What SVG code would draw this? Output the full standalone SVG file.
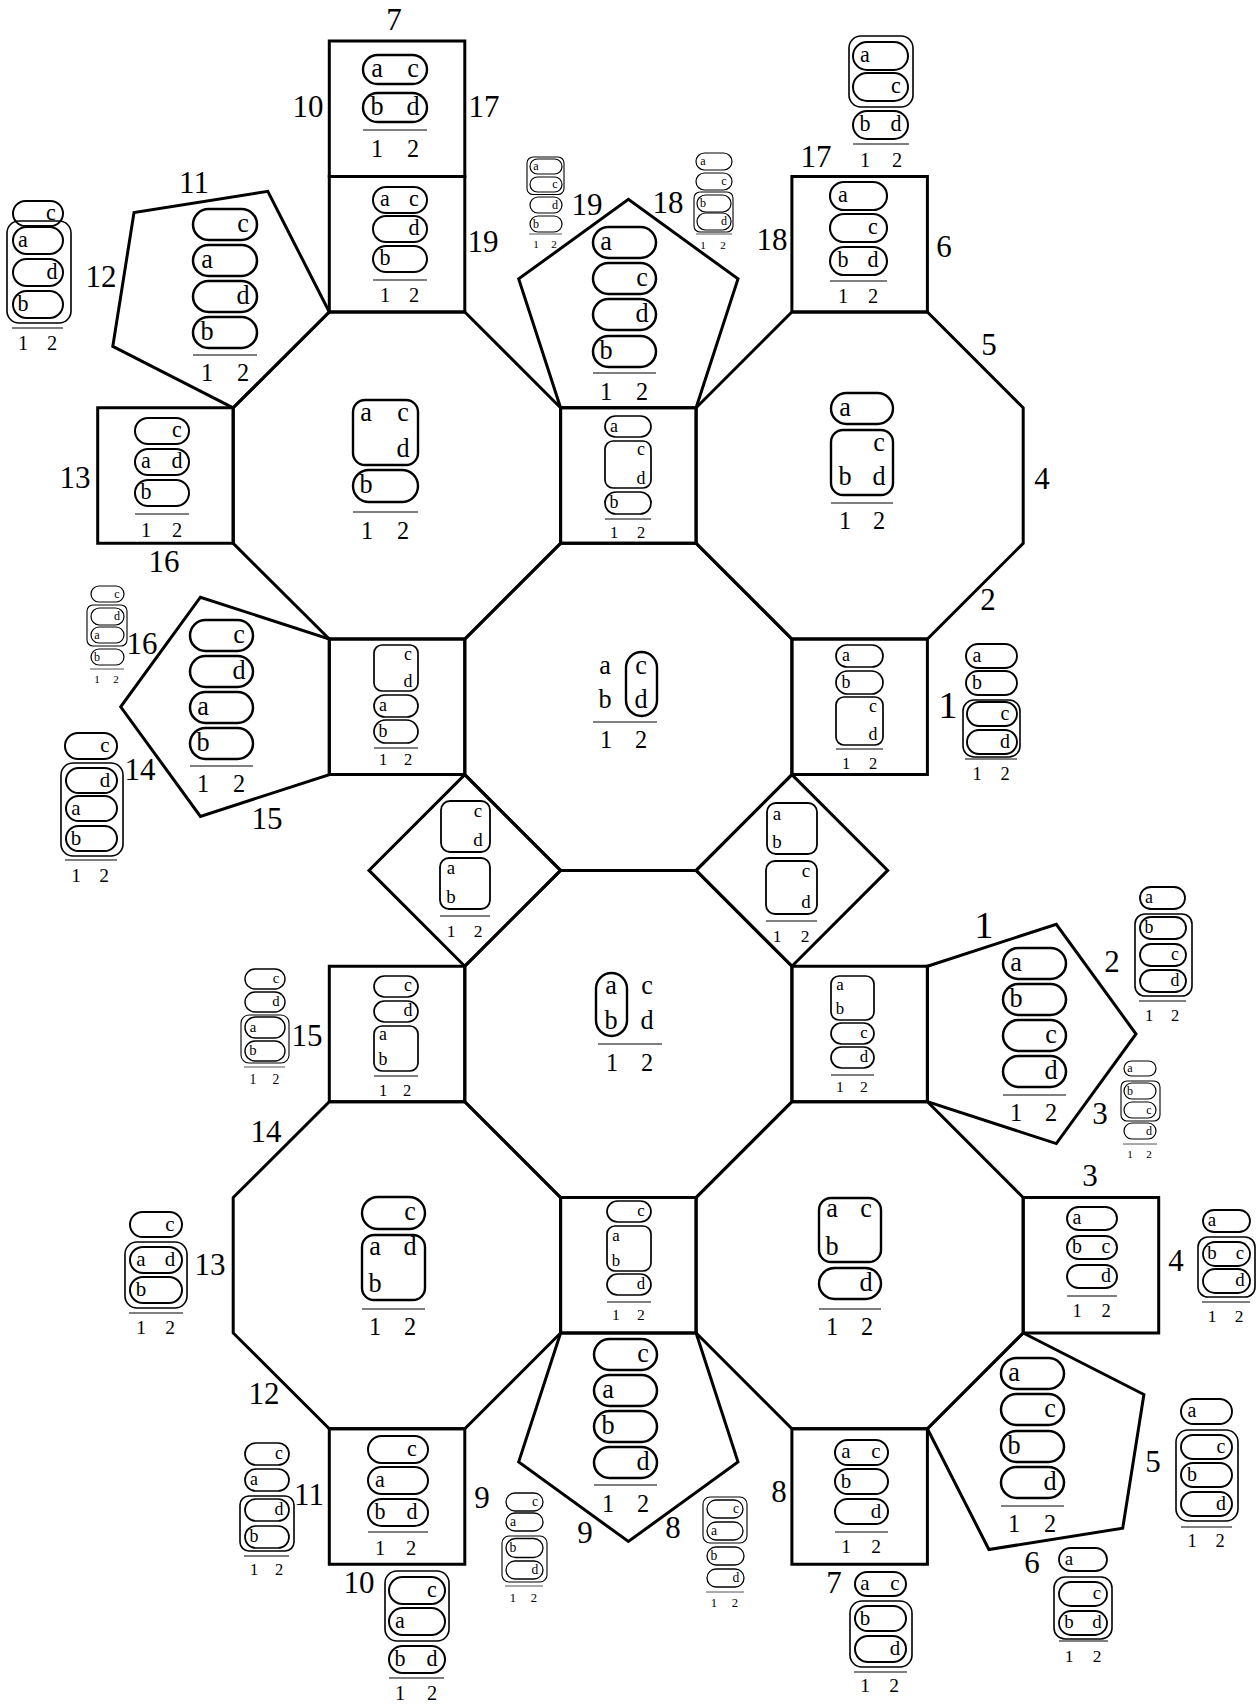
<svg xmlns="http://www.w3.org/2000/svg" width="1260" height="1707" viewBox="0 0 1260 1707">
<style>
text{font-family:"Liberation Serif","Times New Roman",serif;text-anchor:middle;fill:#000;stroke:none}
.d text{font-size:1.05em}
.d text.n{font-size:0.97em}
.d rect{fill:none;stroke:#000}
.d line{stroke:#555;stroke-width:1.5}
.d .c{stroke-width:1.6}
.t line{stroke-width:1}
.t .c{stroke-width:1.1}
.sh{fill:none;stroke:#000;stroke-width:3;stroke-linejoin:miter}
.lb{font-size:31px}
.lb1{font-size:38px}
</style>
<rect width="1260" height="1707" fill="#fff"/>
<g id="tiles">
<g id="sq-top7"><polygon class="sh" points="329.3,41 464.8,41 464.8,176.5 329.3,176.5"/>
<g class="d" font-size="25" stroke-width="2.4">
<rect x="363" y="55" width="64" height="29" rx="14.5"/><rect x="363" y="93" width="64" height="29" rx="14.5"/>
<text x="377" y="77">a</text><text x="413" y="77">c</text><text x="377" y="115">b</text><text x="413" y="115">d</text>
<line x1="363" y1="130" x2="427" y2="130"/>
<text class="n" x="377" y="157">1</text><text class="n" x="413" y="157">2</text></g></g>

<g id="sq-19"><polygon class="sh" points="329.3,176.5 464.8,176.5 464.8,312 329.3,312"/>
<g class="d" font-size="21" stroke-width="2">
<rect x="373" y="187" width="54" height="26" rx="13"/><rect x="373" y="216" width="54" height="26" rx="13"/><rect x="373" y="246" width="54" height="26" rx="13"/>
<text x="385" y="206">a</text><text x="414" y="206">c</text><text x="414" y="235">d</text><text x="385" y="265">b</text>
<line x1="373" y1="280" x2="427" y2="280"/>
<text class="n" x="385" y="302">1</text><text class="n" x="414" y="302">2</text></g></g>

<g id="pent-ul"><polygon class="sh" points="233.2,407.8 329.3,312 267.8,191.3 134,212.5 112.8,346.3"/>
<g class="d" font-size="25" stroke-width="2.5">
<rect x="193" y="209" width="64" height="31" rx="15.5"/><rect x="193" y="245" width="64" height="31" rx="15.5"/><rect x="193" y="281" width="64" height="31" rx="15.5"/><rect x="193" y="317" width="64" height="31" rx="15.5"/>
<text x="243" y="232">c</text><text x="207" y="268">a</text><text x="243" y="304">d</text><text x="207" y="340">b</text>
<line x1="193" y1="355" x2="257" y2="355"/>
<text class="n" x="207" y="381">1</text><text class="n" x="243" y="381">2</text></g></g>

<g id="oct-ul"><polygon class="sh" points="329.3,312 464.8,312 560.6,407.8 560.6,543.3 464.8,639.1 329.3,639.1 233.2,543.3 233.2,407.8"/>
<g class="d" font-size="25" stroke-width="2.4">
<rect x="353" y="400" width="65" height="65" rx="12"/>
<text x="366" y="421">a</text><text x="403" y="421">c</text><text x="403" y="457">d</text>
<rect x="353" y="470" width="65" height="32" rx="16"/><text x="366" y="493">b</text>
<line x1="353" y1="512" x2="418" y2="512"/>
<text class="n" x="367" y="539">1</text><text class="n" x="403" y="539">2</text></g></g>

<g id="sq-13"><polygon class="sh" points="97.7,407.8 233.2,407.8 233.2,543.3 97.7,543.3"/>
<g class="d" font-size="21" stroke-width="2">
<rect x="135" y="418" width="54" height="26" rx="13"/><rect x="135" y="449" width="54" height="26" rx="13"/><rect x="135" y="480" width="54" height="26" rx="13"/>
<text x="177" y="437">c</text><text x="146" y="468">a</text><text x="177" y="468">d</text><text x="146" y="499">b</text>
<line x1="135" y1="514" x2="189" y2="514"/>
<text class="n" x="146" y="537">1</text><text class="n" x="177" y="537">2</text></g></g>

<g id="pent-top"><polygon class="sh" points="560.6,407.8 696.1,407.8 738,278.9 628.4,199.3 518.7,278.9"/>
<g class="d" font-size="25" stroke-width="2.5">
<rect x="593" y="227" width="63" height="31" rx="15.5"/><rect x="593" y="263" width="63" height="31" rx="15.5"/><rect x="593" y="299" width="63" height="31" rx="15.5"/><rect x="593" y="336" width="63" height="31" rx="15.5"/>
<text x="606" y="250">a</text><text x="642" y="286">c</text><text x="642" y="322">d</text><text x="606" y="359">b</text>
<line x1="593" y1="373" x2="656" y2="373"/>
<text class="n" x="606" y="400">1</text><text class="n" x="642" y="400">2</text></g></g>

<g id="sq-ctop"><polygon class="sh" points="560.6,407.8 696.1,407.8 696.1,543.3 560.6,543.3"/>
<g class="d" font-size="17" stroke-width="1.7">
<rect x="605" y="416" width="46" height="21" rx="10.5"/><text x="614" y="432">a</text>
<rect x="605" y="441" width="46" height="47" rx="8"/><text x="641" y="455">c</text><text x="641" y="484">d</text>
<rect x="605" y="492" width="46" height="22" rx="11"/><text x="614" y="508">b</text>
<line x1="605" y1="519" x2="651" y2="519"/>
<text class="n" x="614" y="538">1</text><text class="n" x="641" y="538">2</text></g></g>

<g id="sq-g"><polygon class="sh" points="791.9,176.5 927.4,176.5 927.4,312 791.9,312"/>
<g class="d" font-size="21" stroke-width="2.1">
<rect x="830" y="182" width="57" height="28" rx="14"/><rect x="830" y="214" width="57" height="28" rx="14"/><rect x="830" y="247" width="57" height="28" rx="14"/>
<text x="843" y="202">a</text><text x="873" y="234">c</text><text x="843" y="267">b</text><text x="873" y="267">d</text>
<line x1="830" y1="281" x2="887" y2="281"/>
<text class="n" x="843" y="303">1</text><text class="n" x="873" y="303">2</text></g></g>

<g id="oct-ur"><polygon class="sh" points="791.9,312 927.4,312 1023.2,407.8 1023.2,543.3 927.4,639.1 791.9,639.1 696.1,543.3 696.1,407.8"/>
<g class="d" font-size="25" stroke-width="2.4">
<rect x="831" y="393" width="62" height="31" rx="15.5"/><text x="845" y="416">a</text>
<rect x="831" y="430" width="62" height="65" rx="12"/><text x="879" y="451">c</text><text x="845" y="485">b</text><text x="879" y="485">d</text>
<line x1="831" y1="503" x2="893" y2="503"/>
<text class="n" x="845" y="529">1</text><text class="n" x="879" y="529">2</text></g></g>

<g id="oct-ct"><polygon class="sh" points="560.6,543.3 696.1,543.3 791.9,639.1 791.9,774.6 696.1,870.4 560.6,870.4 464.8,774.6 464.8,639.1"/>
<g class="d" font-size="25" stroke-width="2.4">
<text x="605" y="674">a</text><text x="605" y="708">b</text>
<rect x="626" y="652" width="31" height="64" rx="15.5"/><text x="641" y="674">c</text><text x="641" y="708">d</text>
<line x1="593" y1="722" x2="657" y2="722"/>
<text class="n" x="606" y="748">1</text><text class="n" x="641" y="748">2</text></g></g>

<g id="pent-left"><polygon class="sh" points="329.3,774.6 329.3,639.1 200.4,597.2 120.7,706.8 200.4,816.4"/>
<g class="d" font-size="25" stroke-width="2.5">
<rect x="190" y="620" width="63" height="31" rx="15.5"/><rect x="190" y="656" width="63" height="31" rx="15.5"/><rect x="190" y="692" width="63" height="31" rx="15.5"/><rect x="190" y="728" width="63" height="31" rx="15.5"/>
<text x="239" y="643">c</text><text x="239" y="679">d</text><text x="203" y="715">a</text><text x="203" y="751">b</text>
<line x1="190" y1="766" x2="253" y2="766"/>
<text class="n" x="203" y="792">1</text><text class="n" x="239" y="792">2</text></g></g>

<g id="sq-left"><polygon class="sh" points="329.3,639.1 464.8,639.1 464.8,774.6 329.3,774.6"/>
<g class="d" font-size="17" stroke-width="1.7">
<rect x="374" y="645" width="44" height="46" rx="8"/><text x="408" y="660">c</text><text x="408" y="687">d</text>
<rect x="374" y="695" width="44" height="22" rx="11"/><text x="383" y="711">a</text>
<rect x="374" y="720" width="44" height="23" rx="11.5"/><text x="383" y="737">b</text>
<line x1="374" y1="748" x2="418" y2="748"/>
<text class="n" x="383" y="765">1</text><text class="n" x="408" y="765">2</text></g></g>

<g id="sq-right"><polygon class="sh" points="791.9,639.1 927.4,639.1 927.4,774.6 791.9,774.6"/>
<g class="d" font-size="17" stroke-width="1.7">
<rect x="836" y="645" width="47" height="22" rx="11"/><text x="846" y="661">a</text>
<rect x="836" y="671" width="47" height="23" rx="11.5"/><text x="846" y="688">b</text>
<rect x="836" y="697" width="47" height="48" rx="8"/><text x="873" y="712">c</text><text x="873" y="740">d</text>
<line x1="836" y1="749" x2="883" y2="749"/>
<text class="n" x="846" y="769">1</text><text class="n" x="873" y="769">2</text></g></g>

<g id="dia-left"><polygon class="sh" points="464.8,774.6 560.6,870.4 464.8,966.2 369,870.4"/>
<g class="d" font-size="18" stroke-width="1.8">
<rect x="441" y="801" width="49" height="51" rx="9"/><text x="478" y="817">c</text><text x="478" y="846">d</text>
<rect x="440" y="858" width="50" height="51" rx="9"/><text x="451" y="874">a</text><text x="451" y="903">b</text>
<line x1="440" y1="916" x2="490" y2="916"/>
<text class="n" x="451" y="937">1</text><text class="n" x="478" y="937">2</text></g></g>

<g id="dia-right"><polygon class="sh" points="791.9,774.6 887.7,870.4 791.9,966.2 696.1,870.4"/>
<g class="d" font-size="18" stroke-width="1.8">
<rect x="767" y="803" width="50" height="51" rx="9"/><text x="777" y="820">a</text><text x="777" y="848">b</text>
<rect x="766" y="861" width="51" height="53" rx="9"/><text x="806" y="877">c</text><text x="806" y="908">d</text>
<line x1="766" y1="921" x2="817" y2="921"/>
<text class="n" x="777" y="942">1</text><text class="n" x="805" y="942">2</text></g></g>

<g id="oct-cb"><polygon class="sh" points="560.6,870.4 696.1,870.4 791.9,966.2 791.9,1101.7 696.1,1197.5 560.6,1197.5 464.8,1101.7 464.8,966.2"/>
<g class="d" font-size="25" stroke-width="2.4">
<rect x="596" y="973" width="31" height="63" rx="15.5"/><text x="611" y="994">a</text><text x="611" y="1029">b</text>
<text x="647" y="994">c</text><text x="647" y="1029">d</text>
<line x1="598" y1="1044" x2="662" y2="1044"/>
<text class="n" x="612" y="1071">1</text><text class="n" x="647" y="1071">2</text></g></g>

<g id="sq-lowleft"><polygon class="sh" points="329.3,966.2 464.8,966.2 464.8,1101.7 329.3,1101.7"/>
<g class="d" font-size="17" stroke-width="1.7">
<rect x="374" y="976" width="44" height="21" rx="10.5"/><text x="408" y="991">c</text>
<rect x="374" y="1001" width="44" height="21" rx="10.5"/><text x="408" y="1016">d</text>
<rect x="374" y="1026" width="44" height="45" rx="8"/><text x="383" y="1040">a</text><text x="383" y="1065">b</text>
<line x1="374" y1="1076" x2="418" y2="1076"/>
<text class="n" x="383" y="1096">1</text><text class="n" x="407" y="1096">2</text></g></g>

<g id="sq-lowright"><polygon class="sh" points="791.9,966.2 927.4,966.2 927.4,1101.7 791.9,1101.7"/>
<g class="d" font-size="16" stroke-width="1.7">
<rect x="831" y="976" width="43" height="44" rx="8"/><text x="840" y="990">a</text><text x="840" y="1014">b</text>
<rect x="831" y="1023" width="43" height="21" rx="10.5"/><text x="864" y="1038">c</text>
<rect x="831" y="1047" width="43" height="21" rx="10.5"/><text x="864" y="1062">d</text>
<line x1="831" y1="1075" x2="874" y2="1075"/>
<text class="n" x="840" y="1092">1</text><text class="n" x="864" y="1092">2</text></g></g>

<g id="pent-right"><polygon class="sh" points="927.4,966.2 1056.3,924.3 1136,1034 1056.3,1143.6 927.4,1101.7"/>
<g class="d" font-size="25" stroke-width="2.5">
<rect x="1003" y="948" width="63" height="31" rx="15.5"/><rect x="1003" y="984" width="63" height="31" rx="15.5"/><rect x="1003" y="1020" width="63" height="31" rx="15.5"/><rect x="1003" y="1056" width="63" height="31" rx="15.5"/>
<text x="1016" y="971">a</text><text x="1016" y="1007">b</text><text x="1051" y="1043">c</text><text x="1051" y="1079">d</text>
<line x1="1003" y1="1095" x2="1066" y2="1095"/>
<text class="n" x="1016" y="1121">1</text><text class="n" x="1051" y="1121">2</text></g></g>

<g id="oct-ll"><polygon class="sh" points="329.3,1101.7 464.8,1101.7 560.6,1197.5 560.6,1333 464.8,1428.8 329.3,1428.8 233.2,1333 233.2,1197.5"/>
<g class="d" font-size="25" stroke-width="2.4">
<rect x="362" y="1197" width="63" height="32" rx="16"/><text x="410" y="1220">c</text>
<rect x="362" y="1235" width="63" height="65" rx="12"/><text x="375" y="1255">a</text><text x="410" y="1255">d</text><text x="375" y="1292">b</text>
<line x1="362" y1="1309" x2="425" y2="1309"/>
<text class="n" x="375" y="1335">1</text><text class="n" x="410" y="1335">2</text></g></g>

<g id="sq-cbot"><polygon class="sh" points="560.6,1197.5 696.1,1197.5 696.1,1333 560.6,1333"/>
<g class="d" font-size="16" stroke-width="1.7">
<rect x="607" y="1201" width="44" height="21" rx="10.5"/><text x="641" y="1216">c</text>
<rect x="607" y="1226" width="44" height="45" rx="8"/><text x="616" y="1241">a</text><text x="616" y="1266">b</text>
<rect x="607" y="1274" width="44" height="21" rx="10.5"/><text x="641" y="1289">d</text>
<line x1="607" y1="1302" x2="651" y2="1302"/>
<text class="n" x="616" y="1320">1</text><text class="n" x="641" y="1320">2</text></g></g>

<g id="sq-34"><polygon class="sh" points="1023.2,1197.5 1158.7,1197.5 1158.7,1333 1023.2,1333"/>
<g class="d" font-size="19" stroke-width="1.9">
<rect x="1067" y="1207" width="50" height="23" rx="11.5"/><rect x="1067" y="1236" width="50" height="23" rx="11.5"/><rect x="1067" y="1265" width="50" height="23" rx="11.5"/>
<text x="1077" y="1224">a</text><text x="1077" y="1253">b</text><text x="1106" y="1253">c</text><text x="1106" y="1282">d</text>
<line x1="1067" y1="1296" x2="1117" y2="1296"/>
<text class="n" x="1077" y="1317">1</text><text class="n" x="1106" y="1317">2</text></g></g>

<g id="oct-lr"><polygon class="sh" points="791.9,1101.7 927.4,1101.7 1023.2,1197.5 1023.2,1333 927.4,1428.8 791.9,1428.8 696.1,1333 696.1,1197.5"/>
<g class="d" font-size="25" stroke-width="2.4">
<rect x="819" y="1198" width="62" height="64" rx="12"/><text x="832" y="1217">a</text><text x="866" y="1217">c</text><text x="832" y="1255">b</text>
<rect x="819" y="1268" width="62" height="31" rx="15.5"/><text x="866" y="1291">d</text>
<line x1="819" y1="1309" x2="881" y2="1309"/>
<text class="n" x="832" y="1335">1</text><text class="n" x="867" y="1335">2</text></g></g>

<g id="pent-bot"><polygon class="sh" points="560.6,1333 696.1,1333 738,1461.9 628.4,1541.5 518.7,1461.9"/>
<g class="d" font-size="25" stroke-width="2.5">
<rect x="594" y="1339" width="63" height="31" rx="15.5"/><rect x="594" y="1375" width="63" height="31" rx="15.5"/><rect x="594" y="1411" width="63" height="31" rx="15.5"/><rect x="594" y="1447" width="63" height="31" rx="15.5"/>
<text x="643" y="1362">c</text><text x="608" y="1398">a</text><text x="608" y="1434">b</text><text x="643" y="1470">d</text>
<line x1="594" y1="1485" x2="657" y2="1485"/>
<text class="n" x="608" y="1512">1</text><text class="n" x="643" y="1512">2</text></g></g>

<g id="pent-lr"><polygon class="sh" points="927.4,1428.8 1023.2,1333 1143.9,1394.5 1122.7,1528.3 988.9,1549.5"/>
<g class="d" font-size="25" stroke-width="2.5">
<rect x="1001" y="1358" width="63" height="31" rx="15.5"/><rect x="1001" y="1394" width="63" height="31" rx="15.5"/><rect x="1001" y="1431" width="63" height="31" rx="15.5"/><rect x="1001" y="1467" width="63" height="31" rx="15.5"/>
<text x="1014" y="1381">a</text><text x="1050" y="1417">c</text><text x="1014" y="1454">b</text><text x="1050" y="1490">d</text>
<line x1="1001" y1="1506" x2="1064" y2="1506"/>
<text class="n" x="1014" y="1532">1</text><text class="n" x="1050" y="1532">2</text></g></g>

<g id="sq-y"><polygon class="sh" points="329.3,1428.8 464.8,1428.8 464.8,1564.3 329.3,1564.3"/>
<g class="d" font-size="21" stroke-width="2">
<rect x="368" y="1436" width="60" height="27" rx="13.5"/><rect x="368" y="1467" width="60" height="27" rx="13.5"/><rect x="368" y="1499" width="60" height="27" rx="13.5"/>
<text x="412" y="1456">c</text><text x="380" y="1487">a</text><text x="380" y="1519">b</text><text x="412" y="1519">d</text>
<line x1="368" y1="1532" x2="428" y2="1532"/>
<text class="n" x="380" y="1555">1</text><text class="n" x="411" y="1555">2</text></g></g>

<g id="sq-z"><polygon class="sh" points="791.9,1428.8 927.4,1428.8 927.4,1564.3 791.9,1564.3"/>
<g class="d" font-size="20" stroke-width="2">
<rect x="835" y="1440" width="53" height="25" rx="12.5"/><rect x="835" y="1469" width="53" height="25" rx="12.5"/><rect x="835" y="1499" width="53" height="25" rx="12.5"/>
<text x="846" y="1458">a</text><text x="876" y="1458">c</text><text x="846" y="1488">b</text><text x="876" y="1518">d</text>
<line x1="835" y1="1532" x2="888" y2="1532"/>
<text class="n" x="846" y="1553">1</text><text class="n" x="876" y="1553">2</text></g></g>
</g>

<g id="outer-diagrams">
<g id="o1" class="d" font-size="21" stroke-width="2">
<rect x="13" y="201" width="50" height="25" rx="12.5"/><text x="51" y="220">c</text>
<rect class="c" x="7" y="221" width="64" height="102" rx="12"/>
<rect x="13" y="227" width="50" height="27" rx="13.5"/><rect x="13" y="259" width="50" height="27" rx="13.5"/><rect x="13" y="291" width="50" height="27" rx="13.5"/>
<text x="23" y="247">a</text><text x="52" y="279">d</text><text x="23" y="311">b</text>
<line x1="12" y1="328" x2="63" y2="328"/>
<text class="n" x="23" y="350">1</text><text class="n" x="52" y="350">2</text></g>

<g id="o2" class="d t" font-size="11.5" stroke-width="1.2">
<rect class="c" x="527" y="157" width="37" height="37.5" rx="6"/>
<rect x="530" y="159" width="32" height="15" rx="7.5"/><text x="536" y="170">a</text>
<rect x="530" y="177" width="32" height="15" rx="7.5"/><text x="555" y="188">c</text>
<rect x="530" y="197" width="32" height="16" rx="8"/><text x="555" y="208.5">d</text>
<rect x="530" y="216" width="32" height="16" rx="8"/><text x="536" y="227.5">b</text>
<line x1="529" y1="234" x2="562" y2="234"/>
<text class="n" x="536" y="248">1</text><text class="n" x="554" y="248">2</text></g>

<g id="o3" class="d t" font-size="11.5" stroke-width="1.2">
<rect x="696" y="153" width="36" height="17" rx="8.5"/><text x="703" y="165">a</text>
<rect x="696" y="173" width="36" height="17" rx="8.5"/><text x="724" y="185">c</text>
<rect class="c" x="694" y="192" width="39" height="40" rx="6"/>
<rect x="697" y="195" width="34" height="17" rx="8.5"/><text x="703" y="207">b</text>
<rect x="697" y="213" width="34" height="17" rx="8.5"/><text x="724" y="225">d</text>
<line x1="696" y1="234" x2="732" y2="234"/>
<text class="n" x="703" y="249">1</text><text class="n" x="723" y="249">2</text></g>

<g id="o4" class="d" font-size="21" stroke-width="2">
<rect class="c" x="849" y="36" width="64" height="71" rx="12"/>
<rect x="853" y="42" width="55" height="28" rx="14"/><text x="865" y="62">a</text>
<rect x="853" y="73" width="55" height="28" rx="14"/><text x="896" y="93">c</text>
<rect x="853" y="111" width="55" height="28" rx="14"/><text x="865" y="131">b</text><text x="896" y="131">d</text>
<line x1="853" y1="144" x2="909" y2="144"/>
<text class="n" x="865" y="167">1</text><text class="n" x="897" y="167">2</text></g>

<g id="o5" class="d t" font-size="11.5" stroke-width="1.2">
<rect x="91" y="586" width="33" height="16" rx="8"/><text x="117" y="597.5">c</text>
<rect class="c" x="87" y="605" width="40" height="41" rx="6"/>
<rect x="91" y="608" width="33" height="17" rx="8.5"/><text x="117" y="620">d</text>
<rect x="91" y="627" width="33" height="16" rx="8"/><text x="97" y="638.5">a</text>
<rect x="91" y="649" width="33" height="16" rx="8"/><text x="97" y="660.5">b</text>
<line x1="90" y1="669" x2="124" y2="669"/>
<text class="n" x="97" y="683">1</text><text class="n" x="116" y="683">2</text></g>

<g id="o6" class="d" font-size="20" stroke-width="2">
<rect x="65" y="733" width="52" height="26" rx="13"/><text x="105" y="752">c</text>
<rect class="c" x="61" y="763" width="62" height="93" rx="12"/>
<rect x="66" y="768" width="51" height="25" rx="12.5"/><rect x="66" y="796" width="51" height="25" rx="12.5"/><rect x="66" y="826" width="51" height="25" rx="12.5"/>
<text x="105" y="786.5">d</text><text x="76" y="814.5">a</text><text x="76" y="844.5">b</text>
<line x1="65" y1="860" x2="117" y2="860"/>
<text class="n" x="76" y="882">1</text><text class="n" x="104" y="882">2</text></g>

<g id="o7" class="d" font-size="19" stroke-width="1.9">
<rect x="966" y="644" width="51" height="24" rx="12"/><text x="977" y="662">a</text>
<rect x="966" y="671" width="51" height="24" rx="12"/><text x="977" y="689">b</text>
<rect class="c" x="963" y="700" width="57" height="57" rx="11"/>
<rect x="967" y="702" width="50" height="24" rx="12"/><text x="1005" y="720">c</text>
<rect x="967" y="730" width="50" height="24" rx="12"/><text x="1005" y="748">d</text>
<line x1="965" y1="759" x2="1017" y2="759"/>
<text class="n" x="977" y="780">1</text><text class="n" x="1005" y="780">2</text></g>

<g id="o8" class="d" font-size="17" stroke-width="1.8">
<rect x="1140" y="887" width="45" height="22" rx="11"/><text x="1149" y="903">a</text>
<rect class="c" x="1135" y="914" width="57" height="82" rx="10"/>
<rect x="1140" y="917" width="46" height="22" rx="11"/><rect x="1140" y="944" width="46" height="22" rx="11"/><rect x="1140" y="970" width="46" height="22" rx="11"/>
<text x="1149" y="933">b</text><text x="1175" y="960">c</text><text x="1175" y="986">d</text>
<line x1="1139" y1="1001" x2="1186" y2="1001"/>
<text class="n" x="1149" y="1021">1</text><text class="n" x="1175" y="1021">2</text></g>

<g id="o9" class="d t" font-size="11.5" stroke-width="1.2">
<rect x="1124" y="1061" width="32" height="15" rx="7.5"/><text x="1130" y="1072">a</text>
<rect class="c" x="1121" y="1081" width="39" height="40" rx="6"/>
<rect x="1124" y="1083" width="32" height="16" rx="8"/><text x="1130" y="1094.5">b</text>
<rect x="1124" y="1102" width="32" height="16" rx="8"/><text x="1149" y="1113.5">c</text>
<rect x="1124" y="1123" width="32" height="16" rx="8"/><text x="1149" y="1134.5">d</text>
<line x1="1123" y1="1144" x2="1157" y2="1144"/>
<text class="n" x="1130" y="1158">1</text><text class="n" x="1149" y="1158">2</text></g>

<g id="o10" class="d" font-size="18" stroke-width="1.8">
<rect x="1203" y="1210" width="47" height="22" rx="11"/><text x="1212" y="1226">a</text>
<rect class="c" x="1198" y="1237" width="57" height="60" rx="10"/>
<rect x="1203" y="1242" width="47" height="24" rx="12"/><text x="1212" y="1259">b</text><text x="1240" y="1259">c</text>
<rect x="1203" y="1269" width="47" height="24" rx="12"/><text x="1240" y="1286">d</text>
<line x1="1202" y1="1302" x2="1250" y2="1302"/>
<text class="n" x="1212" y="1322">1</text><text class="n" x="1239" y="1322">2</text></g>

<g id="o11" class="d" font-size="19" stroke-width="1.9">
<rect x="1181" y="1399" width="51" height="25" rx="12.5"/><text x="1192" y="1417">a</text>
<rect class="c" x="1176" y="1430" width="62" height="91" rx="12"/>
<rect x="1181" y="1435" width="51" height="24" rx="12"/><rect x="1181" y="1463" width="51" height="24" rx="12"/><rect x="1181" y="1492" width="51" height="24" rx="12"/>
<text x="1221" y="1453">c</text><text x="1192" y="1481">b</text><text x="1221" y="1510">d</text>
<line x1="1181" y1="1527" x2="1232" y2="1527"/>
<text class="n" x="1192" y="1547">1</text><text class="n" x="1220" y="1547">2</text></g>

<g id="o12" class="d" font-size="18" stroke-width="1.8">
<rect x="1059" y="1548" width="48" height="23" rx="11.5"/><text x="1069" y="1565">a</text>
<rect class="c" x="1054" y="1577" width="58" height="62" rx="11"/>
<rect x="1059" y="1582" width="48" height="24" rx="12"/><text x="1097" y="1599">c</text>
<rect x="1059" y="1611" width="48" height="24" rx="12"/><text x="1069" y="1628">b</text><text x="1097" y="1628">d</text>
<line x1="1059" y1="1641" x2="1108" y2="1641"/>
<text class="n" x="1069" y="1662">1</text><text class="n" x="1097" y="1662">2</text></g>

<g id="o13" class="d" font-size="20" stroke-width="2">
<rect x="855" y="1572" width="51" height="24" rx="12"/><text x="865" y="1590">a</text><text x="895" y="1590">c</text>
<rect class="c" x="850" y="1601" width="62" height="66" rx="12"/>
<rect x="855" y="1606" width="51" height="25" rx="12.5"/><text x="865" y="1624.5">b</text>
<rect x="855" y="1636" width="51" height="26" rx="13"/><text x="895" y="1655">d</text>
<line x1="854" y1="1672" x2="907" y2="1672"/>
<text class="n" x="865" y="1692">1</text><text class="n" x="894" y="1692">2</text></g>

<g id="o14" class="d t" font-size="13" stroke-width="1.3">
<rect class="c" x="703" y="1497" width="44" height="46" rx="7"/>
<rect x="707" y="1500" width="36" height="18" rx="9"/><text x="736" y="1513">c</text>
<rect x="707" y="1522" width="36" height="18" rx="9"/><text x="714" y="1535">a</text>
<rect x="707" y="1547" width="37" height="18" rx="9"/><text x="714" y="1560">b</text>
<rect x="707" y="1569" width="37" height="18" rx="9"/><text x="736" y="1582">d</text>
<line x1="706" y1="1592" x2="744" y2="1592"/>
<text class="n" x="714" y="1607">1</text><text class="n" x="735" y="1607">2</text></g>

<g id="o15" class="d t" font-size="13" stroke-width="1.3">
<rect x="506" y="1493" width="37" height="18" rx="9"/><text x="535" y="1506">c</text>
<rect x="506" y="1513" width="37" height="18" rx="9"/><text x="513" y="1526">a</text>
<rect class="c" x="502" y="1536" width="45" height="46" rx="7"/>
<rect x="506" y="1538.5" width="37" height="19" rx="9.5"/><text x="513" y="1552">b</text>
<rect x="506" y="1561" width="37" height="18" rx="9"/><text x="535" y="1574">d</text>
<line x1="505" y1="1586" x2="543" y2="1586"/>
<text class="n" x="513" y="1602">1</text><text class="n" x="534" y="1602">2</text></g>

<g id="o16" class="d" font-size="17" stroke-width="1.7">
<rect x="245" y="1443" width="44" height="22" rx="11"/><text x="279" y="1459">c</text>
<rect x="245" y="1469" width="44" height="22" rx="11"/><text x="254" y="1485">a</text>
<rect class="c" x="240" y="1496" width="54" height="55" rx="9"/>
<rect x="245" y="1499" width="44" height="22" rx="11"/><text x="279" y="1515">d</text>
<rect x="245" y="1526" width="44" height="22" rx="11"/><text x="254" y="1542">b</text>
<line x1="244" y1="1556" x2="289" y2="1556"/>
<text class="n" x="254" y="1575">1</text><text class="n" x="279" y="1575">2</text></g>

<g id="o17" class="d" font-size="21" stroke-width="2">
<rect class="c" x="385" y="1571" width="64" height="70" rx="12"/>
<rect x="389" y="1577" width="56" height="27" rx="13.5"/><text x="432" y="1597">c</text>
<rect x="389" y="1608" width="56" height="27" rx="13.5"/><text x="400" y="1628">a</text>
<rect x="389" y="1646" width="56" height="27" rx="13.5"/><text x="400" y="1666">b</text><text x="432" y="1666">d</text>
<line x1="389" y1="1678" x2="444" y2="1678"/>
<text class="n" x="400" y="1700">1</text><text class="n" x="432" y="1700">2</text></g>

<g id="o18" class="d" font-size="20" stroke-width="2">
<rect x="130" y="1212" width="52" height="25" rx="12.5"/><text x="170" y="1230.5">c</text>
<rect class="c" x="125" y="1242" width="62" height="66" rx="12"/>
<rect x="130" y="1247" width="52" height="26" rx="13"/><text x="141" y="1266">a</text><text x="170" y="1266">d</text>
<rect x="130" y="1277" width="52" height="26" rx="13"/><text x="141" y="1296">b</text>
<line x1="129" y1="1313" x2="183" y2="1313"/>
<text class="n" x="141" y="1334">1</text><text class="n" x="170" y="1334">2</text></g>

<g id="o19" class="d t" font-size="14" stroke-width="1.4">
<rect x="245" y="969" width="40" height="20" rx="10"/><text x="276" y="983">c</text>
<rect x="245" y="992" width="40" height="20" rx="10"/><text x="276" y="1006">d</text>
<rect class="c" x="241" y="1015" width="48" height="48" rx="8"/>
<rect x="245" y="1017" width="40" height="21" rx="10.5"/><text x="253" y="1032">a</text>
<rect x="245" y="1041" width="40" height="20" rx="10"/><text x="253" y="1055">b</text>
<line x1="244" y1="1067" x2="285" y2="1067"/>
<text class="n" x="253" y="1084">1</text><text class="n" x="276" y="1084">2</text></g>
</g>

<g id="labels" class="lb">
<text x="394" y="30">7</text><text x="308" y="117">10</text><text x="484" y="117">17</text><text x="483" y="252">19</text>
<text x="194" y="193">11</text><text x="101" y="287">12</text><text x="587" y="215">19</text><text x="668" y="213">18</text>
<text x="816" y="167">17</text><text x="772" y="250">18</text><text x="944" y="257">6</text><text x="989" y="355">5</text>
<text x="1042" y="489">4</text><text x="988" y="610">2</text><text class="lb1" x="948" y="718">1</text>
<text x="75" y="488">13</text><text x="164" y="572">16</text><text x="142" y="654">16</text><text x="140" y="780">14</text>
<text x="267" y="829">15</text><text class="lb1" x="984" y="938">1</text><text x="1112" y="972">2</text><text x="1100" y="1124">3</text>
<text x="1090" y="1186">3</text><text x="1176" y="1271">4</text><text x="307" y="1046">15</text><text x="266" y="1142">14</text>
<text x="210" y="1275">13</text><text x="264" y="1404">12</text><text x="309" y="1505">11</text><text x="359" y="1593">10</text>
<text x="482" y="1508">9</text><text x="585" y="1543">9</text><text x="673" y="1538">8</text><text x="779" y="1502">8</text>
<text x="834" y="1593">7</text><text x="1153" y="1472">5</text><text x="1032" y="1573">6</text>
</g>
</svg>
